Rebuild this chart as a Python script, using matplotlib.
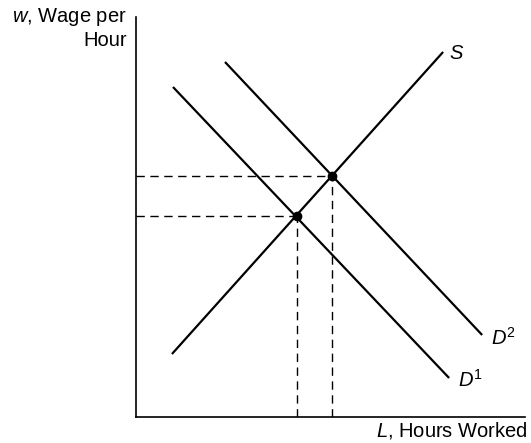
import matplotlib.pyplot as plt

plt.rcParams['font.family'] = ['Liberation Sans', 'DejaVu Sans']
plt.rcParams['mathtext.fontset'] = 'custom'
plt.rcParams['mathtext.rm'] = 'Liberation Sans'
plt.rcParams['mathtext.it'] = 'Liberation Sans:italic'

# curve end points (L, w)
S_L = [36, 307]
S_w = [63, 365]
D1_L = [37, 313]
D1_w = [330, 39]
D2_L = [89, 346]
D2_w = [355, 82]

# equilibria
eq_L = [161, 196]
eq_w = [201, 241]

fig = plt.figure(figsize=(5.31, 4.43), dpi=100)
ax = fig.add_axes([0.256, 0.0587, 0.733, 0.903])

ax.plot(S_L, S_w, color='black', lw=1.6, solid_capstyle='butt')
ax.plot(D1_L, D1_w, color='black', lw=1.6, solid_capstyle='butt')
ax.plot(D2_L, D2_w, color='black', lw=1.6, solid_capstyle='butt')

for L, w in zip(eq_L, eq_w):
    ax.plot([0, L], [w, w], color='black', lw=1, dashes=(6, 4))
    ax.plot([L, L], [0, w], color='black', lw=1, dashes=(6, 4))
ax.plot(eq_L, eq_w, 'o', color='black', markersize=6)

ax.text(S_L[1] + 6, S_w[1] - 2, 'S', fontsize=14.5, style='italic', va='center', ha='left')
ax.text(D2_L[1] + 9, D2_w[1] - 3, '$D^{2}$', fontsize=14.5, va='center', ha='left')
ax.text(D1_L[1] + 9, D1_w[1] - 2, '$D^{1}$', fontsize=14.5, va='center', ha='left')

ax.set_xlim(0, 389)
ax.set_ylim(0, 400)
ax.set_xticks([])
ax.set_yticks([])
for side in ['top', 'right']:
    ax.spines[side].set_visible(False)
for side in ['left', 'bottom']:
    ax.spines[side].set_linewidth(1.2)

fig.text(127 / 531, 1 - 6 / 443, '$w$, Wage per\nHour', fontsize=14.5, ha='right', va='top',
         linespacing=1.2)
fig.text(528 / 531, 2 / 443, '$L$, Hours Worked', fontsize=14.5, ha='right', va='bottom')

fig.savefig('out.png', dpi=100)
